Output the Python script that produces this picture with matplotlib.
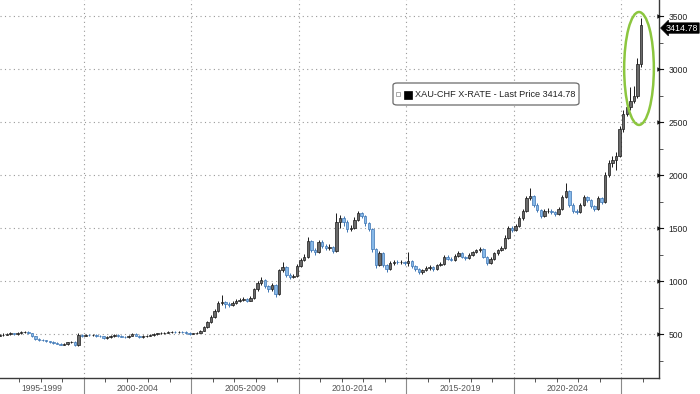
import matplotlib
matplotlib.use("Agg")
import matplotlib.pyplot as plt
import matplotlib.transforms as mtransforms
from matplotlib.patches import Ellipse, FancyBboxPatch, Rectangle
import pandas as pd

# ---------------- data (bi-monthly candles, XAU in CHF) ----------------
periods = pd.date_range("1996-01-01", periods=180, freq="2MS")
first_open = 485
closes = [
    490, 495, 500, 505, 500, 510, 515, 520, 505, 480,
    450, 445, 440, 430, 425, 415, 410, 400, 405, 420,
    425, 395, 490, 485, 490, 488, 492, 485, 478, 462,
    470, 480, 490, 482, 475, 468, 485, 500, 485, 470,
    478, 485, 490, 498, 505, 510, 512, 518, 520, 515,
    520, 518, 510, 500, 505, 510, 530, 565, 610, 660,
    720, 790, 800, 780, 775, 790, 810, 820, 830, 815,
    840, 920, 980, 1010, 950, 920, 960, 880, 1100, 1130,
    1060, 1040, 1050, 1140, 1200, 1230, 1380, 1290, 1270, 1370,
    1330, 1310, 1320, 1280, 1560, 1590, 1560, 1490, 1500, 1580,
    1640, 1610, 1545, 1490, 1300, 1150, 1260, 1150, 1110, 1170,
    1180, 1175, 1180, 1170, 1190, 1140, 1110, 1085, 1100, 1120,
    1130, 1110, 1150, 1160, 1230, 1210, 1200, 1240, 1265, 1230,
    1215, 1250, 1270, 1290, 1300, 1230, 1170, 1210, 1260, 1290,
    1310, 1410, 1500, 1480, 1520, 1590, 1660, 1780, 1800, 1720,
    1670, 1610, 1660, 1660, 1650, 1630, 1680, 1790, 1850, 1720,
    1660, 1650, 1715, 1790, 1765, 1710, 1680, 1780, 1750, 2000,
    2110, 2140, 2180, 2430, 2580, 2640, 2700, 2750, 3050, 3414.78,
]
highs = [
    500, 505, 510, 515, 512, 518, 524, 530, 525, 510,
    485, 460, 455, 448, 438, 432, 424, 418, 414, 428,
    436, 430, 510, 500, 500, 498, 502, 498, 490, 482,
    478, 488, 498, 496, 488, 480, 492, 510, 505, 490,
    486, 492, 498, 506, 514, 518, 522, 528, 532, 528,
    530, 528, 524, 515, 514, 520, 540, 575, 622, 675,
    740, 810, 870, 815, 800, 808, 828, 840, 852, 842,
    860, 935, 1000, 1040, 1020, 965, 980, 975, 1115, 1180,
    1140, 1075, 1070, 1160, 1220, 1255, 1415, 1390, 1310, 1390,
    1385, 1350, 1345, 1330, 1640, 1625, 1610, 1575, 1530, 1600,
    1660, 1655, 1620, 1560, 1500, 1310, 1280, 1270, 1165, 1185,
    1195, 1198, 1195, 1192, 1275, 1200, 1150, 1120, 1118, 1138,
    1148, 1140, 1165, 1180, 1250, 1245, 1225, 1255, 1280, 1275,
    1240, 1265, 1285, 1305, 1320, 1310, 1240, 1225, 1275, 1305,
    1330, 1430, 1520, 1515, 1540, 1610, 1680, 1800, 1875, 1810,
    1735, 1680, 1680, 1685, 1675, 1665, 1700, 1810, 1925, 1860,
    1735, 1680, 1735, 1810, 1800, 1775, 1720, 1800, 1795, 2030,
    2140, 2180, 2220, 2460, 2610, 2680, 2830, 2840, 3100, 3480,
]
lows = [
    478, 484, 488, 494, 492, 495, 504, 508, 498, 472,
    442, 436, 432, 422, 416, 408, 402, 392, 394, 398,
    412, 388, 390, 476, 478, 480, 482, 476, 470, 455,
    456, 464, 474, 476, 468, 460, 462, 480, 478, 464,
    465, 472, 480, 484, 492, 500, 504, 506, 510, 506,
    508, 510, 502, 494, 496, 498, 505, 525, 558, 600,
    650, 712, 770, 745, 755, 765, 780, 800, 808, 800,
    808, 832, 905, 960, 930, 900, 905, 850, 870, 1085,
    1040, 1020, 1025, 1040, 1130, 1185, 1220, 1270, 1245, 1260,
    1310, 1290, 1295, 1260, 1270, 1500, 1520, 1460, 1470, 1490,
    1570, 1590, 1520, 1470, 1270, 1120, 1140, 1130, 1085, 1100,
    1155, 1160, 1160, 1150, 1140, 1120, 1090, 1065, 1070, 1090,
    1105, 1095, 1100, 1140, 1150, 1195, 1185, 1190, 1230, 1215,
    1200, 1205, 1240, 1260, 1275, 1215, 1155, 1160, 1200, 1250,
    1280, 1300, 1400, 1460, 1470, 1505, 1575, 1650, 1760, 1700,
    1650, 1590, 1600, 1640, 1630, 1610, 1620, 1670, 1780, 1700,
    1640, 1630, 1640, 1705, 1745, 1690, 1660, 1670, 1730, 1740,
    1980, 2080, 2050, 2170, 2410, 2560, 2610, 2680, 2730, 3020,
]
opens = [first_open] + closes[:-1]

series_label = "XAU-CHF X-RATE - Last Price 3414.78"
last_price = 3414.78
last_price_text = "3414.78"
y_ticks = [500, 1000, 1500, 2000, 2500, 3000, 3500]
y_minor = [250, 750, 1250, 1750, 2250, 2750, 3250]
section_bounds = [2000, 2005, 2010, 2015, 2020, 2025]
year_ticks = list(range(1997, 2027))
section_labels = ["1995-1999", "2000-2004", "2005-2009", "2010-2014", "2015-2019", "2020-2024"]
section_label_pos = [1998.05, 2002.5, 2007.5, 2012.5, 2017.5, 2022.5]

# ---------------- figure ----------------
W, H = 700, 394
fig = plt.figure(figsize=(W / 100, H / 100), dpi=100)
fig.patch.set_facecolor("white")
ax = fig.add_axes([0, 1 - 378 / H, 659 / W, 378 / H])
ax.set_facecolor("white")

FONT = "Liberation Sans"
xs = [p.year + (p.month - 1) / 12 + 1 / 12 for p in periods]

up_face, up_edge = "#6a6a6a", "#1a1a1a"
dn_face, dn_edge = "#86b8e8", "#3d75b3"
body_w = 0.115
for x, o, c, h, l in zip(xs, opens, closes, highs, lows):
    up = c >= o
    ec = up_edge if up else dn_edge
    fc = up_face if up else dn_face
    ax.vlines(x, l, h, color=ec, lw=0.7, zorder=3)
    bottom = min(o, c)
    height = max(abs(c - o), 4)
    ax.add_patch(Rectangle((x - body_w / 2, bottom), body_w, height,
                           facecolor=fc, edgecolor=ec, lw=0.5, zorder=4))

ax.set_xlim(1996.1, 2026.75)
ax.set_ylim(85, 3651)

# grid
dot = (0, (1, 3))
for y in y_ticks:
    ax.axhline(y, color="#9a9a9a", lw=0.8, ls=dot, zorder=1)
for xv in section_bounds:
    ax.axvline(xv, color="#9a9a9a", lw=0.8, ls=dot, zorder=1)

# spines
for s in ["top", "left"]:
    ax.spines[s].set_visible(False)
for s in ["right", "bottom"]:
    ax.spines[s].set_color("#3a3a3a")
    ax.spines[s].set_linewidth(1.0)

# y axis on right
ax.yaxis.tick_right()
ax.set_yticks(y_ticks)
ax.set_yticklabels([str(v) for v in y_ticks], fontsize=6.2, family=FONT, color="#222222")
ax.set_yticks(y_minor, minor=True)
ax.tick_params(axis="y", which="major", length=0, pad=7)
ax.tick_params(axis="y", which="minor", length=3, color="#555555", width=0.7, direction="out")
tri = mtransforms.blended_transform_factory(ax.transAxes, ax.transData)
for y in y_ticks:
    ax.plot([1.0], [y], marker=">", ms=3.2, color="#111111", transform=tri,
            clip_on=False, zorder=6, markeredgewidth=0)
    ax.plot([1.0, 1.006], [y, y], color="#111111", lw=0.8, transform=tri, clip_on=False)

# x axis
ax.set_xticks(section_bounds)
ax.set_xticklabels([])
ax.set_xticks(year_ticks, minor=True)
ax.tick_params(axis="x", which="major", length=14, color="#8a8a8a", width=0.8, direction="out")
ax.tick_params(axis="x", which="minor", length=3, color="#555555", width=0.7, direction="out")
xtr = mtransforms.blended_transform_factory(ax.transData, ax.transAxes)
for lab, xp in zip(section_labels, section_label_pos):
    ax.annotate(lab, xy=(xp, 0), xycoords=xtr, xytext=(0, -6), textcoords="offset pixels",
                ha="center", va="top", fontsize=6.2, family=FONT, color="#555555",
                annotation_clip=False)

# highlight ellipse
ax.add_patch(Ellipse((2025.82, 3005), width=1.38, height=1065, fill=False,
                     edgecolor="#8cc63f", lw=1.8, zorder=7))

# last price tag
ax.annotate(last_price_text, xy=(1.0, last_price), xycoords=tri, xytext=(7, -3),
            textcoords="offset pixels", ha="left", va="center", fontsize=6.4,
            family=FONT, color="white", annotation_clip=False,
            bbox=dict(boxstyle="larrow,pad=0.08", fc="black", ec="black", lw=0.5))

# legend box (figure pixel coords)
def fx(px):
    return px / W

def fy(py):
    return 1 - py / H

leg = FancyBboxPatch((fx(393), fy(105)), fx(579) - fx(393), fy(83) - fy(105),
                     boxstyle="round,pad=0,rounding_size=0.006",
                     transform=fig.transFigure, facecolor="white",
                     edgecolor="#6a6a6a", lw=0.9, zorder=10)
fig.add_artist(leg)
fig.add_artist(Rectangle((fx(396), fy(96)), fx(4), 4 / H, transform=fig.transFigure,
                         facecolor="white", edgecolor="#888888", lw=0.5, zorder=11))
fig.add_artist(Rectangle((fx(404), fy(98.5)), fx(8), 8 / H, transform=fig.transFigure,
                         facecolor="black", edgecolor="black", lw=0.5, zorder=11))
fig.text(fx(415), fy(94.5), series_label, fontsize=6.6, family=FONT, color="#222222",
         ha="left", va="center", zorder=12)

fig.savefig("out.png", dpi=100, facecolor="white")
